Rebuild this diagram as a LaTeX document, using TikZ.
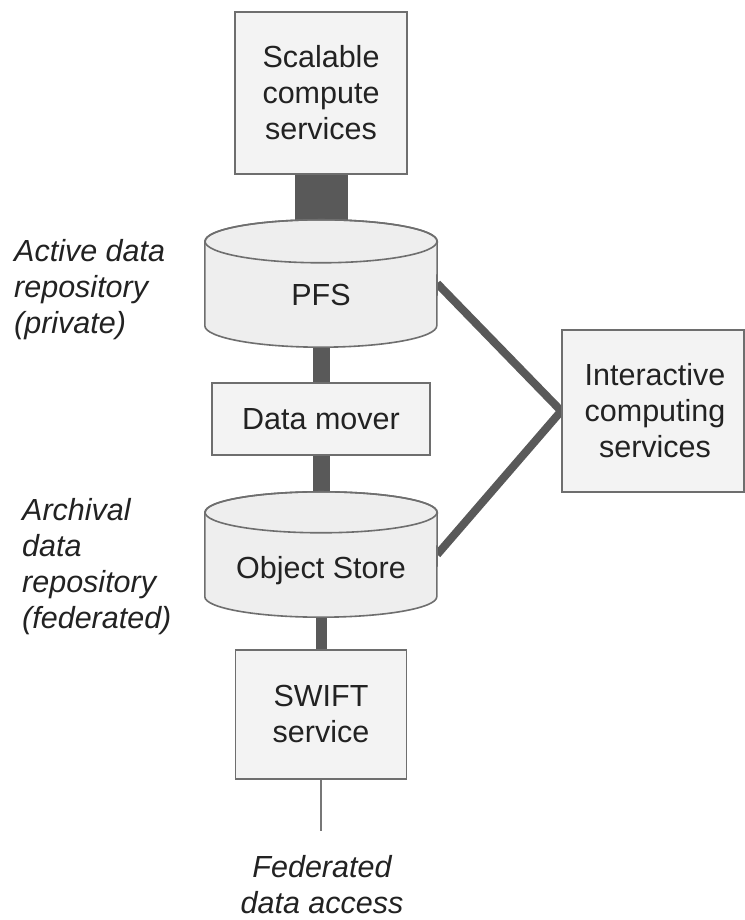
\documentclass[tikz,border=0pt]{standalone}
\usepackage{fontspec}
\setmainfont{Liberation Sans}
\usetikzlibrary{backgrounds,calc}
\definecolor{boxfill}{HTML}{F3F3F3}
\definecolor{cylfill}{HTML}{EEEEEE}
\definecolor{edgegray}{HTML}{6E6E6E}
\definecolor{conngray}{HTML}{595959}
\definecolor{thingray}{HTML}{777777}
\definecolor{txt}{HTML}{222222}
\newcommand\drawcyl[2]{%
  \path[cylshape] ($(#1.north west)+(0,-#2)$) -- ($(#1.south west)+(0,#2)$)
    arc[start angle=180,end angle=360,x radius=116,y radius=#2]
    -- ($(#1.north east)+(0,-#2)$)
    arc[start angle=0,end angle=180,x radius=116,y radius=#2] -- cycle;
  \draw[cylshape,fill=none] ($(#1.north)+(0,-#2)$) ellipse[x radius=116,y radius=#2];}
\begin{document}
\begin{tikzpicture}[x=1pt,y=1pt,
  every node/.style={font=\fontsize{30.5}{36}\selectfont, text=txt},
  box/.style={draw=edgegray, fill=boxfill, line width=1.6pt, align=center, inner sep=0pt},
  cylgeo/.style={inner sep=0pt, align=center, text depth=0pt},
  cylshape/.style={draw=edgegray, fill=cylfill, line width=1.6pt},
  conn/.style={draw=conngray, line cap=butt},
  note/.style={font=\fontsize{30.5}{36}\selectfont\itshape, inner sep=0pt}]
\useasboundingbox (0,0) rectangle (744,920);
\node[box, minimum width=172pt, minimum height=162pt] (scal) at (321,827) {Scalable\\compute\\services};
\node[cylgeo, minimum width=232pt, minimum height=127pt, text height=45pt] (pfs) at (321,636.5) {PFS};
\node[box, minimum width=218pt, minimum height=72pt] (dm) at (321,501) {Data mover};
\node[cylgeo, minimum width=232pt, minimum height=125pt, text height=49pt] (os) at (321,365.5) {Object Store};
\node[box, minimum width=171pt, minimum height=129pt] (swift) at (321,205.5) {SWIFT\\service};
\node[box, minimum width=182pt, minimum height=162pt] (inter) at (653,509) {\hspace*{4pt}Interactive\\\hspace*{4pt}computing\\\hspace*{4pt}services};
\coordinate (fed) at (321,89);
\node[note, align=center] (fedtxt) at (322,35) {Federated\\data access};
\node[note, align=left, anchor=north west] (active) at (14,681) {Active data\\repository\\(private)};
\node[note, align=left, anchor=north west] (archival) at (22,422) {Archival\\data\\repository\\(federated)};
\begin{scope}[on background layer]
  \fill[white] (0,0) rectangle (744,920);
  \draw[conn, line width=53pt] (scal) -- (pfs);
  \draw[conn, line width=17pt] (pfs) -- (dm);
  \draw[conn, line width=17pt] (dm) -- (os);
  \draw[conn, line width=11pt] (os) -- (swift);
  \draw[draw=thingray, line width=2pt] (swift) -- (fed);
  \draw[conn, line width=8pt] (pfs.east) -- (inter.west) -- (os.east);
  \drawcyl{pfs}{21.5}
  \drawcyl{os}{20.5}
\end{scope}
\end{tikzpicture}
\end{document}
